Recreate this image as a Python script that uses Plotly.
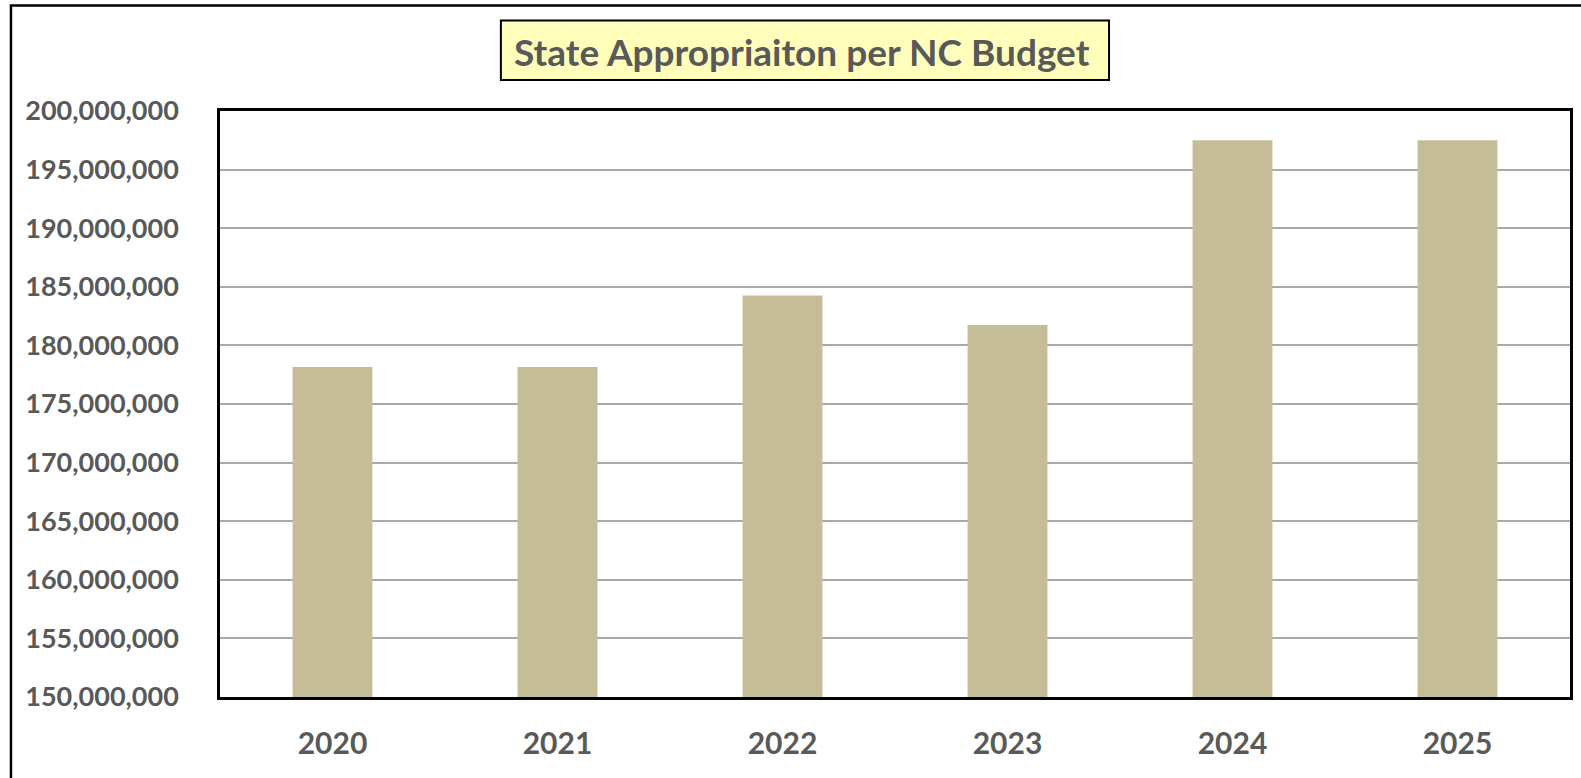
import plotly.graph_objects as go

years = ["2020", "2021", "2022", "2023", "2024", "2025"]
appropriation = [178_150_000, 178_150_000, 184_250_000, 181_750_000, 197_500_000, 197_500_000]
y_ticks = [150_000_000 + 5_000_000 * i for i in range(11)]
title_text = "State Appropriaiton per NC Budget"

W, H = 1581, 778
L, R, T, B = 220, 8, 111, 81
pw, ph = W - L - R, H - T - B

def px_x(x):
    return (x - L) / pw

def px_y(y):
    return (H - B - y) / ph

FONT = "Lato"
GRAY = "#595959"

fig = go.Figure(go.Bar(x=years, y=appropriation, marker=dict(color="#C4BD97", line=dict(width=0)),
                       hoverinfo="x+y"))

fig.update_layout(
    width=W, height=H,
    margin=dict(l=L, r=R, t=T, b=B),
    paper_bgcolor="white", plot_bgcolor="white",
    bargap=0.645,
    showlegend=False,
    font=dict(family=FONT, color=GRAY),
    xaxis=dict(
        showline=True, linecolor="black", linewidth=3, mirror=True,
        ticks="outside", ticklen=18, tickcolor="rgba(0,0,0,0)",
        tickfont=dict(family=FONT, size=30, color=GRAY, weight="bold"),
        showgrid=False,
    ),
    yaxis=dict(
        range=[150_000_000, 200_000_000],
        tickvals=y_ticks, tickformat=",",
        showline=True, linecolor="black", linewidth=2.5, mirror=True,
        ticks="outside", ticklen=33, tickcolor="rgba(0,0,0,0)",
        tickfont=dict(family=FONT, size=27, color=GRAY, weight="bold"),
        showgrid=True, gridcolor="#A9A9A9", gridwidth=1.5,
        zeroline=False,
    ),
    shapes=[
        dict(type="path", xref="paper", yref="paper",
             path=f"M {px_x(10.5)} {px_y(800)} L {px_x(10.5)} {px_y(5.5)} L {px_x(1600)} {px_y(5.5)}",
             line=dict(color="black", width=2.5)),
        dict(type="rect", xref="paper", yref="paper",
             x0=px_x(501.5), x1=px_x(1111), y0=px_y(80), y1=px_y(20.5),
             fillcolor="#FFFFBB", line=dict(color="black", width=2)),
    ],
    annotations=[
        dict(text=f"<b>{title_text}</b>", xref="paper", yref="paper",
             x=px_x(803), y=px_y(51), xanchor="center", yanchor="middle",
             showarrow=False, font=dict(family=FONT, size=37, color=GRAY)),
    ],
)

fig.write_html("out.html", config={"displayModeBar": False},
               post_script="document.body.style.margin='0';document.body.style.overflow='hidden';")
